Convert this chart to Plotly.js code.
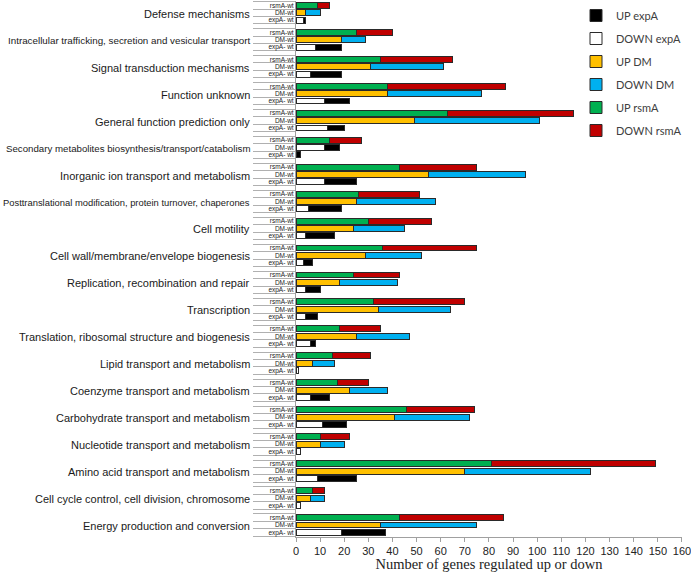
<!DOCTYPE html>
<html>
<head>
<meta charset="utf-8">
<script src="https://cdn.plot.ly/plotly-3.0.1.min.js"></script>
<style>html,body{margin:0;padding:0;background:#fff;}#chart{width:691px;height:572px;}</style>
</head>
<body>
<div id="chart"></div>
<script>
// Categories, top to bottom
const categories = [
  "Defense mechanisms",
  "Intracellular trafficking, secretion and vesicular transport",
  "Signal transduction mechanisms",
  "Function unknown",
  "General function prediction only",
  "Secondary metabolites biosynthesis/transport/catabolism",
  "Inorganic ion transport and metabolism",
  "Posttranslational modification, protein turnover, chaperones",
  "Cell motility",
  "Cell wall/membrane/envelope biogenesis",
  "Replication, recombination and repair",
  "Transcription",
  "Translation, ribosomal structure and biogenesis",
  "Lipid transport and metabolism",
  "Coenzyme transport and metabolism",
  "Carbohydrate transport and metabolism",
  "Nucleotide transport and metabolism",
  "Amino acid transport and metabolism",
  "Cell cycle control, cell division, chromosome",
  "Energy production and conversion"
];
const rowLabels = ["rsmA-wt", "DM-wt", "expA- wt"];

const upRsmA   = [9, 25, 35, 38, 63, 14, 43, 26, 30, 36, 24, 32, 18, 15, 17, 46, 10, 81, 7, 43];
const downRsmA = [5, 15, 30, 49, 52, 13, 32, 25, 26, 39, 19, 38, 17, 16, 13, 28, 12, 68, 5, 43];
const upDM     = [4, 19, 31, 38, 49, 12, 55, 25, 24, 29, 18, 34, 25, 7, 22, 41, 10, 70, 6, 35];
const downDM   = [6, 10, 30, 39, 52, 6, 40, 33, 21, 23, 24, 30, 22, 9, 16, 31, 10, 52, 6, 40];
const downExpA = [3, 8, 6, 12, 13, 0, 12, 5, 4, 3, 4, 4, 6, 1, 6, 11, 2, 9, 2, 19];
const upExpA   = [1, 11, 13, 10, 7, 2, 13, 14, 12, 4, 6, 5, 2, 0, 8, 10, 0, 16, 0, 18];

const labelSizes = {
  "Intracellular trafficking, secretion and vesicular transport": 9.8,
  "Secondary metabolites biosynthesis/transport/catabolism": 9.7,
  "Posttranslational modification, protein turnover, chaperones": 9.4
};

const n = categories.length;
const OFF = 0.274;
const centers = categories.map((c, i) => n - 1 - i);
const yRsmA = centers.map(c => c + OFF);
const yDM = centers.map(c => c);
const yExpA = centers.map(c => c - OFF);

const C = {
  upExpA: "#000000", downExpA: "#ffffff",
  upDM: "#ffc000", downDM: "#00b0f0",
  upRsmA: "#00b050", downRsmA: "#c00000"
};
// the DM row of "Secondary metabolites..." is drawn in the expA colours in the original
const odd = "Secondary metabolites biosynthesis/transport/catabolism";
const upDMColors = categories.map(c => c === odd ? C.downExpA : C.upDM);
const downDMColors = categories.map(c => c === odd ? C.upExpA : C.downDM);

const BW = 0.22;
const line = {color: "#2a2a2a", width: 1};
function bar(name, x, y, color, rank) {
  return {
    type: "bar", orientation: "h", name: name, x: x, y: y,
    width: BW, marker: {color: color, line: line},
    legendrank: rank, legendgroup: name, hoverinfo: "x+name"
  };
}

const data = [
  bar("DOWN expA", downExpA, yExpA, C.downExpA, 2),
  bar("UP expA", upExpA, yExpA, C.upExpA, 1),
  bar("UP DM", upDM, yDM, upDMColors, 3),
  bar("DOWN DM", downDM, yDM, downDMColors, 4),
  bar("UP rsmA", upRsmA, yRsmA, C.upRsmA, 5),
  bar("DOWN rsmA", downRsmA, yRsmA, C.downRsmA, 6)
];

const tickvals = [], ticktext = [], bounds = [];
centers.forEach(c => {
  [c + OFF, c, c - OFF].forEach((v, k) => { tickvals.push(v); ticktext.push(rowLabels[k]); });
  bounds.push(c + 1.5 * OFF, c + 0.5 * OFF, c - 0.5 * OFF, c - 1.5 * OFF);
});

const annotations = categories.map((c, i) => ({
  text: c, xref: "paper", yref: "y", x: -0.113, y: centers[i], yshift: -1,
  xanchor: "right", yanchor: "middle", showarrow: false,
  font: {family: "Liberation Sans, Arial, sans-serif", size: labelSizes[c] || 11, color: "#1a1a1a"}
}));

const layout = {
  width: 691, height: 572,
  margin: {l: 296, r: 9, t: 1, b: 35},
  paper_bgcolor: "#fff", plot_bgcolor: "#fff",
  barmode: "stack",
  showlegend: true,
  legend: {
    xref: "paper", yref: "paper", x: (576 - 296) / 386, y: 1.0, xanchor: "left", yanchor: "top",
    traceorder: "grouped", tracegroupgap: 4,
    font: {family: "Lato, Liberation Sans, sans-serif", size: 11, color: "#404040"},
    bgcolor: "rgba(0,0,0,0)"
  },
  xaxis: {
    range: [0, 160.02], dtick: 10, tick0: 0, tickangle: 0, automargin: false,
    ticklabeloverflow: "allow",
    showgrid: false, zeroline: false,
    showline: true, linecolor: "#a0a0a0", linewidth: 1,
    ticks: "outside", ticklen: 4, tickcolor: "#a0a0a0",
    tickfont: {family: "Liberation Sans, Arial, sans-serif", size: 11, color: "#222"},
    title: {text: "Number of genes regulated up or down", standoff: 4,
      font: {family: "Liberation Serif, Times New Roman, serif", size: 14.5, color: "#222"}}
  },
  yaxis: {
    range: [-0.445, n - 1 + 0.436], automargin: false,
    tickmode: "array", tickvals: tickvals, ticktext: ticktext,
    ticks: "", showgrid: false, zeroline: false,
    showline: true, linecolor: "#a0a0a0", linewidth: 1,
    tickfont: {family: "Liberation Sans, Arial, sans-serif", size: 6.5, color: "#222"},
    minor: {tickmode: "array", tickvals: bounds, ticks: "outside", ticklen: 42, tickcolor: "#b0b0b0", tickwidth: 1, showgrid: false}
  },
  annotations: annotations
};

Plotly.newPlot("chart", data, layout, {displayModeBar: false, staticPlot: true});
</script>
</body>
</html>
